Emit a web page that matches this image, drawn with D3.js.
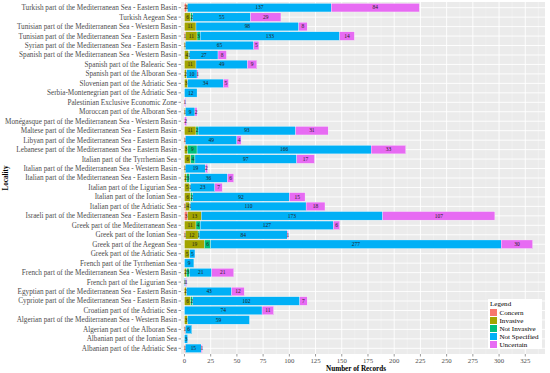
<!DOCTYPE html>
<html>
<head>
<meta charset="utf-8">
<script src="https://cdn.jsdelivr.net/npm/d3@7"></script>
<style>
  body { margin: 0; background: #fff; }
  text { font-family: "Liberation Serif", "DejaVu Serif", serif; }
</style>
</head>
<body>
<div id="chart"></div>
<script>
// categories, top to bottom as drawn
var localities = [
  "Turkish part of the Mediterranean Sea - Eastern Basin",
  "Turkish Aegean Sea",
  "Tunisian part of the Mediterranean Sea - Western Basin",
  "Tunisian part of the Mediterranean Sea - Eastern Basin",
  "Syrian part of the Mediterranean Sea - Eastern Basin",
  "Spanish part of the Mediterranean Sea - Western Basin",
  "Spanish part of the Balearic Sea",
  "Spanish part of the Alboran Sea",
  "Slovenian part of the Adriatic Sea",
  "Serbia-Montenegrian part of the Adriatic Sea",
  "Palestinian Exclusive Economic Zone",
  "Moroccan part of the Alboran Sea",
  "Monégasque part of the Mediterranean Sea - Western Basin",
  "Maltese part of the Mediterranean Sea - Eastern Basin",
  "Libyan part of the Mediterranean Sea - Eastern Basin",
  "Lebanese part of the Mediterranean Sea - Eastern Basin",
  "Italian part of the Tyrrhenian Sea",
  "Italian part of the Mediterranean Sea - Western Basin",
  "Italian part of the Mediterranean Sea - Eastern Basin",
  "Italian part of the Ligurian Sea",
  "Italian part of the Ionian Sea",
  "Italian part of the Adriatic Sea",
  "Israeli part of the Mediterranean Sea - Eastern Basin",
  "Greek part of the Mediterranean Sea",
  "Greek part of the Ionian Sea",
  "Greek part of the Aegean Sea",
  "Greek part of the Adriatic Sea",
  "French part of the Tyrrhenian Sea",
  "French part of the Mediterranean Sea - Western Basin",
  "French part of the Ligurian Sea",
  "Egyptian part of the Mediterranean Sea - Eastern Basin",
  "Cypriote part of the Mediterranean Sea - Eastern Basin",
  "Croatian part of the Adriatic Sea",
  "Algerian part of the Mediterranean Sea - Western Basin",
  "Algerian part of the Alboran Sea",
  "Albanian part of the Ionian Sea",
  "Albanian part of the Adriatic Sea"
];

var concern      = [2,0,0,1,0,0,0,0,0,0,0,0,0,0,1,0,0,0,0,0,0,1,3,0,1,0,0,0,0,0,0,0,0,0,1,0,1];
var invasive     = [1,6,11,11,1,4,11,2,3,0,0,1,0,11,0,3,6,1,2,5,6,4,13,11,12,19,5,0,2,0,2,6,0,3,0,0,0];
var notInvasive  = [0,2,0,3,0,1,0,0,0,0,0,0,0,2,0,9,4,0,3,1,2,1,0,4,1,6,0,0,3,0,0,2,0,0,0,0,0];
var notSpecified = [137,55,98,133,65,27,49,10,34,12,0,9,0,93,49,166,97,19,36,23,92,110,173,127,84,277,5,9,21,1,43,102,74,59,6,3,15];
var uncertain    = [84,29,8,14,5,8,9,1,5,0,1,2,2,31,4,33,17,2,6,7,15,18,107,6,1,30,0,0,21,1,12,7,11,0,0,0,1];

var legendNames = ["Concern", "Invasive", "Not Invasive", "Not Specified", "Uncertain"];
var legendColors = ["#F8766D", "#A3A500", "#00BF7D", "#00B0F6", "#E76BF3"];
var xTicks = [0,25,50,75,100,125,150,175,200,225,250,275,300,325];

var W = 550, H = 373;
var panel = {left: 181, right: 545, top: 2, bottom: 354};

var svg = d3.select("#chart").append("svg").attr("width", W).attr("height", H);

function textWidth(str, size, weight) {
  var t = svg.append("text").attr("font-size", size).attr("font-weight", weight || "normal").text(str);
  var w = t.node().getComputedTextLength();
  t.remove();
  return w;
}
// the original font is a wide serif: draw Liberation Serif a bit stretched
function stretch(sel, k) {
  sel.each(function(){
    var w = this.getComputedTextLength();
    d3.select(this).attr("textLength", w * k).attr("lengthAdjust", "spacingAndGlyphs");
  });
}

var labSize = 7.4;
var labK = 172 / textWidth(localities[12], labSize);
var legSize = 7;
var legK = 39 / textWidth("Not Specified", legSize);
var valSize = 10 * 8.2 / textWidth("137", 10);
var tickSize = 6.8;
var titleSize = 7.4;
var titleK = 60 / textWidth("Number of Records", titleSize, "bold");

var x = d3.scaleLinear().domain([-3.3, 343.8]).range([panel.left, panel.right]);
var y = d3.scalePoint().domain(localities).range([panel.top, panel.bottom]).padding(0.6);
var barH = y.step() * 0.9;

// panel background + grid
svg.append("rect").attr("x", panel.left).attr("y", panel.top)
  .attr("width", panel.right - panel.left).attr("height", panel.bottom - panel.top)
  .attr("fill", "#EBEBEB");

var minor = xTicks.slice(0, -1).map(function(t){ return t + 12.5; }).concat([337.5]);
svg.selectAll(".minor").data(minor).enter().append("line")
  .attr("x1", function(d){ return x(d); }).attr("x2", function(d){ return x(d); })
  .attr("y1", panel.top).attr("y2", panel.bottom)
  .attr("stroke", "#F5F5F5").attr("stroke-width", 0.5);
svg.selectAll(".major").data(xTicks).enter().append("line")
  .attr("x1", function(d){ return x(d); }).attr("x2", function(d){ return x(d); })
  .attr("y1", panel.top).attr("y2", panel.bottom)
  .attr("stroke", "#fff").attr("stroke-width", 0.9);
svg.selectAll(".hmajor").data(localities).enter().append("line")
  .attr("x1", panel.left).attr("x2", panel.right)
  .attr("y1", function(d){ return y(d); }).attr("y2", function(d){ return y(d); })
  .attr("stroke", "#fff").attr("stroke-width", 0.9);

// stacked data
var table = localities.map(function(loc, i){
  return {loc: loc, Concern: concern[i], Invasive: invasive[i], "Not Invasive": notInvasive[i],
          "Not Specified": notSpecified[i], Uncertain: uncertain[i]};
});
var series = d3.stack().keys(legendNames)(table);

var groups = svg.selectAll(".series").data(series).enter().append("g")
  .attr("fill", function(d, i){ return legendColors[i]; });

groups.selectAll("rect").data(function(d){ return d.filter(function(s){ return s[1] > s[0]; }); })
  .enter().append("rect")
  .attr("x", function(d){ return x(d[0]); })
  .attr("width", function(d){ return x(d[1]) - x(d[0]); })
  .attr("y", function(d){ return y(d.data.loc) - barH / 2; })
  .attr("height", barH)
  .attr("stroke", "#fff").attr("stroke-width", 0.3);

// value labels
var labels = [];
series.forEach(function(s){
  s.forEach(function(seg){
    if (seg[1] > seg[0]) labels.push({v: seg[1] - seg[0], mid: (seg[0] + seg[1]) / 2, loc: seg.data.loc});
  });
});
svg.selectAll(".val").data(labels).enter().append("text")
  .attr("x", function(d){ return x(d.mid); })
  .attr("y", function(d){ return y(d.loc) + valSize * 0.33; })
  .attr("text-anchor", "middle")
  .attr("font-size", valSize).attr("fill", "#222")
  .text(function(d){ return d.v; });

// y axis
svg.selectAll(".ytick").data(localities).enter().append("line")
  .attr("x1", panel.left - 2.5).attr("x2", panel.left)
  .attr("y1", function(d){ return y(d); }).attr("y2", function(d){ return y(d); })
  .attr("stroke", "#333").attr("stroke-width", 0.5);
svg.selectAll(".ylab").data(localities).enter().append("text")
  .attr("x", panel.left - 4).attr("y", function(d){ return y(d) + labSize * 0.33; })
  .attr("text-anchor", "end").attr("font-size", labSize).attr("fill", "#4D4D4D")
  .text(function(d){ return d; })
  .call(stretch, labK);

// x axis
svg.selectAll(".xtick").data(xTicks).enter().append("line")
  .attr("x1", function(d){ return x(d); }).attr("x2", function(d){ return x(d); })
  .attr("y1", panel.bottom).attr("y2", panel.bottom + 2.5)
  .attr("stroke", "#333").attr("stroke-width", 0.5);
svg.selectAll(".xlab").data(xTicks).enter().append("text")
  .attr("x", function(d){ return x(d); }).attr("y", panel.bottom + 8.5)
  .attr("text-anchor", "middle").attr("font-size", tickSize).attr("fill", "#4D4D4D")
  .text(function(d){ return d; });

svg.append("text").attr("x", 356).attr("y", 370.5)
  .attr("text-anchor", "middle").attr("font-size", titleSize).attr("font-weight", "bold")
  .text("Number of Records")
  .call(stretch, titleK);
svg.append("text").attr("transform", "translate(8," + ((panel.top + panel.bottom) / 2) + ") rotate(-90)")
  .attr("text-anchor", "middle").attr("font-size", titleSize).attr("font-weight", "bold")
  .text("Locality")
  .call(stretch, titleK);

// legend
var lg = svg.append("g").attr("transform", "translate(488,299)");
lg.append("rect").attr("width", 54).attr("height", 50).attr("fill", "#fff");
lg.append("text").attr("x", 2).attr("y", 7).attr("font-size", legSize).text("Legend").call(stretch, legK);
legendNames.forEach(function(n, i){
  lg.append("rect").attr("x", 2).attr("y", 10 + i * 8).attr("width", 7).attr("height", 7)
    .attr("fill", legendColors[i]);
  lg.append("text").attr("x", 11.5).attr("y", 16 + i * 8).attr("font-size", legSize).text(n)
    .call(stretch, legK);
});
</script>
</body>
</html>
